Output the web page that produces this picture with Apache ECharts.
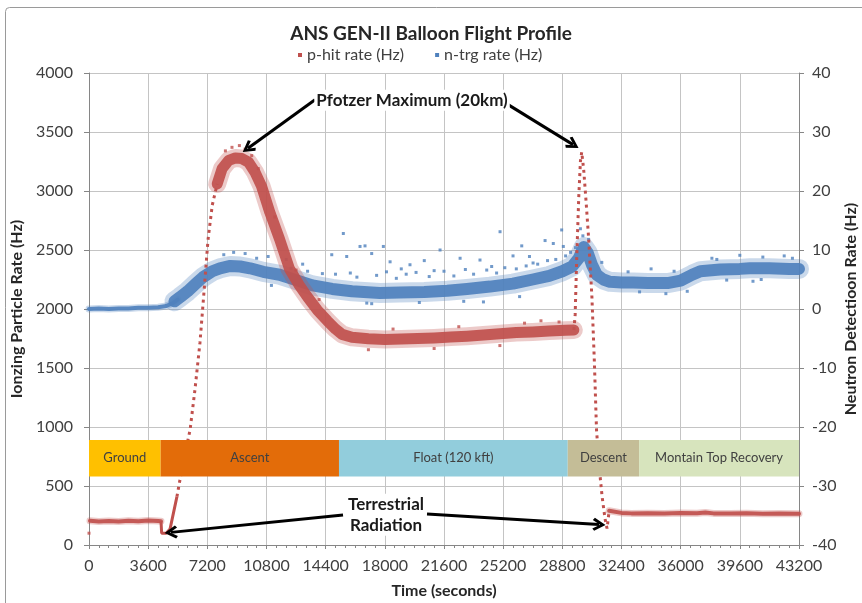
<!DOCTYPE html>
<html>
<head>
<meta charset="utf-8">
<script src="https://cdn.jsdelivr.net/npm/echarts@6/dist/echarts.min.js"></script>
<style>
html, body { margin: 0; padding: 0; background: #fff; }
#main { width: 862px; height: 603px; }
</style>
</head>
<body>
<div id="main"></div>
<script>
// flight phases (seconds) and their strip on the left axis (Hz)
var phaseNames = ['Ground', 'Ascent', 'Float (120 kft)', 'Descent', 'Montain Top Recovery'];
var phaseStart = [0, 4360, 15210, 29130, 33470];
var phaseEnd = [4360, 15210, 29130, 33470, 43200];
var phaseColors = ['#FFC000', '#E36C09', '#92CDDC', '#C4BD97', '#D7E4BD'];
var phaseRange = [580, 890];

// p-hit rate (Hz), [time s, rate]
var redFirst = [[0, 100]];
var redGround = [[60, 205], [600, 200], [1200, 204], [1800, 199], [2400, 206], [3000, 201], [3600, 207], [4200, 203], [4380, 202]];
var redDrop = [[4380, 202], [4420, 100], [4520, 85], [4700, 100], [4930, 135], [5350, 410]];
var redClimb = [[5350, 410], [5720, 695], [6150, 975], [6450, 1320], [6750, 1712], [7000, 2150], [7240, 2585], [7500, 2880], [7800, 3060]];
var redFloat = [[7800, 3060], [8100, 3190], [8500, 3260], [8900, 3280], [9300, 3275], [9700, 3245], [10100, 3160], [10500, 3040],
  [11000, 2820], [11600, 2590], [12200, 2340], [12800, 2200], [13300, 2100], [13900, 1990], [14500, 1900], [15000, 1830],
  [15400, 1785], [16000, 1760], [17000, 1748], [18000, 1742], [19000, 1745], [20000, 1750], [21000, 1755], [22000, 1762],
  [23000, 1770], [24000, 1780], [25000, 1790], [26000, 1800], [27000, 1806], [28000, 1814], [29000, 1820], [29500, 1822]];
var redSpike = [[29500, 1822], [29580, 1950], [29680, 2450], [29800, 2950], [29900, 3250], [29980, 3330], [30100, 3180],
  [30250, 2900], [30400, 2600], [30600, 2100], [30750, 1550], [30880, 975], [31050, 650], [31220, 410], [31400, 220],
  [31520, 140], [31650, 290]];
var redRecovery = [[31650, 290], [32400, 272], [33000, 268], [34000, 270], [35000, 266], [36000, 272], [37000, 270],
  [37500, 276], [38000, 268], [39000, 266], [40000, 270], [41000, 264], [42000, 267], [43200, 265]];
var redStray = [[8700, 3370], [9150, 3385], [9500, 3355], [10300, 3190], [8300, 3340], [9900, 3300], [11300, 2780],
  [12600, 2330], [14000, 2080], [17000, 1655], [18500, 1830], [21000, 1665], [22500, 1850], [25000, 1690],
  [26500, 1880], [27500, 1900], [28600, 1890]];

// n-trg rate (Hz), [time s, rate]
var blueGround = [[0, 0], [600, 0.1], [1200, 0], [1800, 0.1], [2400, 0.1], [3000, 0.2], [3600, 0.2], [4200, 0.3], [4700, 0.5], [5100, 1.0], [5400, 1.6]];
var blueMain = [[5200, 1.3], [5540, 2.0], [6000, 3.0], [6500, 4.3], [6940, 5.4], [7500, 6.4], [7970, 6.9], [8600, 7.3],
  [9200, 7.2], [9800, 6.9], [10600, 6.3], [11600, 5.8], [12600, 4.9], [13600, 4.0], [14800, 3.4], [16000, 3.0],
  [17700, 2.7], [18900, 2.8], [20400, 2.9], [21800, 3.1], [23000, 3.4], [24400, 3.8], [25800, 4.3], [27000, 5.0],
  [28000, 5.6], [28800, 6.4], [29400, 7.2], [29800, 8.6], [30100, 10.5], [30350, 9.5], [30600, 7.5], [30900, 5.8],
  [31300, 5.0], [31700, 4.6], [32400, 4.5], [33100, 4.5], [34000, 4.4], [35200, 4.4], [36000, 4.8], [36700, 5.8],
  [37200, 6.4], [38400, 6.7], [39600, 6.8], [40200, 6.9], [41400, 6.9], [42600, 6.8], [43200, 6.8]];
var blueStray = [[9500, 9.4], [10900, 8.9], [12000, 8.4], [13000, 7.6], [14770, 9.2], [15475, 12.8], [15680, 8.9],
  [16490, 10.6], [16794, 10.7], [17200, 9.4], [17910, 10.6], [18320, 8.0], [19000, 6.8], [19530, 7.5], [20400, 8.2],
  [21000, 6.5], [21360, 10.0], [22580, 8.6], [23790, 8.3], [24500, 7.2], [25010, 13.1], [25800, 9.0], [26330, 10.7],
  [26800, 8.9], [27020, 7.8], [27750, 11.6], [28250, 11.1], [28760, 13.4], [28860, 10.6], [29300, 9.6], [29900, 13.6],
  [30050, 12.4], [31200, 7.9], [33500, 2.9], [34200, 6.8], [35100, 2.6], [37900, 8.6], [38800, 4.9], [39600, 9.1],
  [40400, 4.7], [41000, 8.8], [42300, 9.0], [17200, 0.9], [24000, 1.2],
  [8200, 9.2], [8800, 9.6], [10200, 8.6], [11100, 4.0], [12300, 6.9], [13300, 6.4], [14200, 6.0], [15000, 5.9],
  [15900, 6.1], [16300, 5.4], [17500, 5.7], [18100, 6.3], [18700, 5.2], [19300, 5.9], [19900, 6.2], [20700, 5.5],
  [21600, 6.4], [22200, 5.6], [22900, 6.7], [23400, 5.9], [24200, 6.6], [24800, 6.1], [25300, 7.0], [26000, 6.8],
  [26600, 7.3], [27300, 7.6], [27900, 8.2], [28400, 8.4], [29000, 9.0], [29600, 10.4], [30400, 11.8], [16900, 1.0],
  [20100, 1.1], [22800, 1.3], [26200, 2.1], [32800, 6.3], [35600, 6.4], [36400, 3.0], [38200, 8.4], [40900, 5.0], [42800, 8.6]];

var xTicks = [0, 43200, 3600];
var leftTicks = [0, 4000, 500];
var rightTicks = [-40, 40, 10];

var redName = 'p-hit rate (Hz)';
var blueName = 'n-trg rate (Hz)';
var red = '#C0504D';
var blue = '#4F81BD';
var font = 'Lato, "Open Sans", sans-serif';
var chevron = 'path://M0,14 L10,0 L20,14 L16.5,16.5 L10,7 L3.5,16.5 Z';

function band(name, data, color, core, fuzz, yIndex, z) {
  return [
    {name: name, type: 'line', yAxisIndex: yIndex, data: data, symbol: 'none', z: z, silent: true,
      itemStyle: {color: color}, lineStyle: {color: color, width: fuzz, opacity: 0.3, join: 'round', cap: 'round'}},
    {name: name, type: 'line', yAxisIndex: yIndex, data: data, symbol: 'none', z: z, silent: true,
      itemStyle: {color: color}, lineStyle: {color: color, width: core, opacity: 0.92, join: 'round', cap: 'round'}}
  ];
}

function dashed(name, data, color, yIndex, z, type) {
  return {name: name, type: 'line', yAxisIndex: yIndex, data: data, symbol: 'none', z: z, silent: true,
    itemStyle: {color: color}, lineStyle: {color: color, width: 3, type: type}};
}

function stray(name, data, color, yIndex, z) {
  return {name: name, type: 'scatter', yAxisIndex: yIndex, data: data, symbol: 'rect', symbolSize: 3, z: z,
    silent: true, itemStyle: {color: color}};
}

var arrowLines = [
  [{coord: [13752, 3774]}, {coord: [9675, 3363]}],
  [{coord: [25496, 3732]}, {coord: [29450, 3393]}],
  [{coord: [15456, 254]}, {coord: [4990, 107]}],
  [{coord: [20567, 263]}, {coord: [31034, 173]}]
];
var noteLabels = [
  {coord: [19655, 3770], text: 'Pfotzer Maximum (20km)'},
  {coord: [18072, 256], text: 'Terrestrial\nRadiation'}
];

var series = [];
series = series.concat(band(blueName, blueGround, blue, 4, 7, 1, 2));
series = series.concat(band(blueName, blueMain, blue, 12, 20, 1, 2));
series.push(stray(blueName, blueStray, blue, 1, 2));
series = series.concat(band(redName, redGround, red, 4, 7, 0, 3));
series.push(dashed(redName, redDrop, red, 0, 3, 'solid'));
series.push(dashed(redName, redClimb, red, 0, 3, [3, 4]));
series = series.concat(band(redName, redFloat, red, 11, 18, 0, 3));
series.push(dashed(redName, redSpike, red, 0, 3, [3, 4]));
series = series.concat(band(redName, redRecovery, red, 4, 7, 0, 3));
series.push(stray(redName, redStray.concat(redFirst), red, 0, 3));

// phase strip drawn over the data
series.push({
  type: 'custom', name: 'phases', z: 4, silent: true,
  encode: {x: [0, 1], y: [2, 3]},
  data: phaseNames.map(function (n, i) { return [phaseStart[i], phaseEnd[i], phaseRange[0], phaseRange[1], i]; }),
  renderItem: function (params, api) {
    var a = api.coord([api.value(0), api.value(3)]);
    var b = api.coord([api.value(1), api.value(2)]);
    var i = api.value(4);
    return {
      type: 'rect',
      shape: {x: a[0], y: a[1], width: b[0] - a[0], height: b[1] - a[1]},
      style: {fill: phaseColors[i]},
      textContent: {style: {text: phaseNames[i], fill: '#404040', font: '13px ' + font}},
      textConfig: {position: 'inside'}
    };
  }
});

// annotations
series.push({
  type: 'line', name: 'notes', data: [[0, -100]], symbol: 'none', lineStyle: {width: 0}, silent: true,
  markLine: {
    silent: true, symbol: ['none', chevron], symbolSize: 13, label: {show: false},
    lineStyle: {color: '#000', width: 3, type: 'solid'},
    data: arrowLines
  },
  markPoint: {
    silent: true, symbol: 'rect', symbolSize: 1, itemStyle: {color: 'rgba(0,0,0,0)'},
    label: {show: true, position: 'inside', color: '#1a1a1a', fontFamily: font, fontWeight: 'bold', fontSize: 17,
      lineHeight: 21, backgroundColor: '#fff', padding: [0, 2]},
    data: noteLabels.map(function (n) { return {coord: n.coord, label: {formatter: n.text}}; })
  }
});

var plain = function (v) { return String(v); };
var axisLabel = {color: '#404040', fontFamily: font, fontSize: 16, formatter: plain};
var nameStyle = {color: '#262626', fontFamily: font, fontSize: 16, fontWeight: 'bold'};

var option = {
  animation: false,
  backgroundColor: '#fff',
  graphic: [{type: 'rect', left: 3, top: 5, silent: true, shape: {width: 900, height: 700, r: 4},
    style: {fill: 'none', stroke: '#9a9a9a', lineWidth: 1}}],
  title: {
    text: 'ANS GEN-II Balloon Flight Profile', left: 'center', top: 19,
    textStyle: {fontFamily: font, fontSize: 19, fontWeight: 'bold', color: '#262626'}
  },
  legend: {
    data: [redName, blueName], left: 293, top: 42, icon: 'rect', itemWidth: 4, itemHeight: 4, itemGap: 31,
    textStyle: {fontFamily: font, fontSize: 16, color: '#404040'}, selectedMode: false
  },
  grid: {left: 89, right: 63, top: 73, bottom: 58, outerBoundsMode: 'none', containLabel: false},
  xAxis: {
    type: 'value', min: xTicks[0], max: xTicks[1], interval: xTicks[2],
    name: 'Time (seconds)', nameLocation: 'middle', nameGap: 38, nameTextStyle: nameStyle,
    axisLine: {onZero: false, lineStyle: {color: '#868686'}},
    axisTick: {length: 4, lineStyle: {color: '#868686'}},
    minorTick: {show: true, splitNumber: 6, length: 3, lineStyle: {color: '#868686'}},
    axisLabel: Object.assign({margin: 13}, axisLabel),
    splitLine: {lineStyle: {color: '#c4c4c4'}}
  },
  yAxis: [{
    type: 'value', min: leftTicks[0], max: leftTicks[1], interval: leftTicks[2],
    name: 'Ionzing Particle Rate (Hz)', nameLocation: 'middle', nameGap: 60, nameTextStyle: nameStyle,
    axisLine: {show: true, lineStyle: {color: '#868686'}},
    axisTick: {show: true, length: 5, lineStyle: {color: '#868686'}},
    axisLabel: Object.assign({margin: 16}, axisLabel),
    splitLine: {lineStyle: {color: '#c4c4c4'}}
  }, {
    type: 'value', min: rightTicks[0], max: rightTicks[1], interval: rightTicks[2], position: 'right',
    name: 'Neutron Detectioon Rate (Hz)', nameLocation: 'middle', nameGap: 44, nameMoveOverlap: false,
    nameTextStyle: nameStyle,
    axisLine: {show: true, lineStyle: {color: '#868686'}},
    axisTick: {show: true, length: 5, lineStyle: {color: '#868686'}},
    axisLabel: Object.assign({margin: 13}, axisLabel),
    splitLine: {show: false}
  }],
  series: series
};

var chart = echarts.init(document.getElementById('main'));
chart.setOption(option);
</script>
</body>
</html>
